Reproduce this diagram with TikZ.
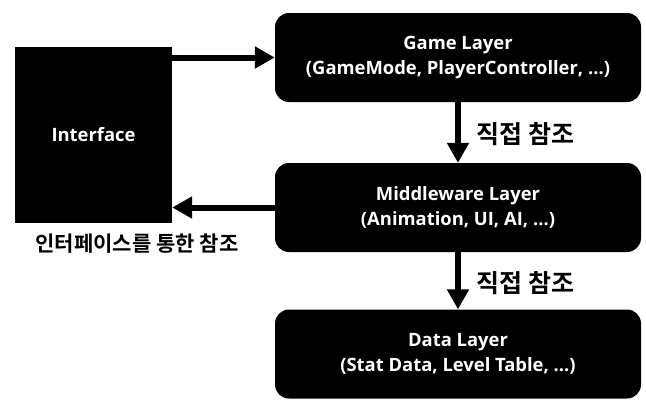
\documentclass[tikz,border=0pt]{standalone}
\usepackage{fontspec}
\setmainfont{Open Sans}
\newfontfamily\kr{Noto Sans CJK KR}[BoldFont={Noto Sans CJK KR Bold}]
\usetikzlibrary{arrows.meta,positioning}

\begin{document}
\begin{tikzpicture}[x=1pt,y=-1pt,node distance=150pt,on grid,
    layer/.style={rectangle, rounded corners=14pt, fill=black, text=white,
      minimum width=366pt, minimum height=89pt, align=center,
      font=\bfseries\fontsize{18.4}{25}\selectfont},
    iface/.style={rectangle, fill=black, text=white, minimum width=157pt,
      minimum height=176pt, font=\bfseries\fontsize{18.4}{25}\selectfont},
    reflbl/.style={font=\kr\bfseries\fontsize{25}{28}\selectfont},
    thick arrow/.style={line width=6pt, -{Triangle[length=20pt,width=21pt]}}]
   \useasboundingbox (0,0) rectangle (646,410);

   \node[layer] (game) at (458,57.5) {Game Layer\\(GameMode, PlayerController, \dots)};
   \node[layer] (mid)  [below=of game] {Middleware Layer\\(Animation, UI, AI, \dots)};
   \node[layer] (data) [below=146.5pt of mid] {Data Layer\\(Stat Data, Level Table, \dots)};
   \node[iface] (itf) at (93.5,135) {Interface};
   \node[reflbl, font=\kr\bfseries\fontsize{21}{24}\selectfont] (ifref) at (137,244) {인터페이스를 통한 참조};

   \draw[thick arrow] (game.west -| itf.east) -- (game.west);
   \draw[thick arrow] (mid.west) -- (mid.west -| itf.east);
   \draw[thick arrow] (game) -- (mid)
     node[reflbl, midway, right=12pt, yshift=-2pt] (ref1) {직접 참조};
   \draw[thick arrow] (mid) -- (data)
     node[reflbl, midway, right=12pt, yshift=-2pt] (ref2) {직접 참조};
\end{tikzpicture}
\end{document}
